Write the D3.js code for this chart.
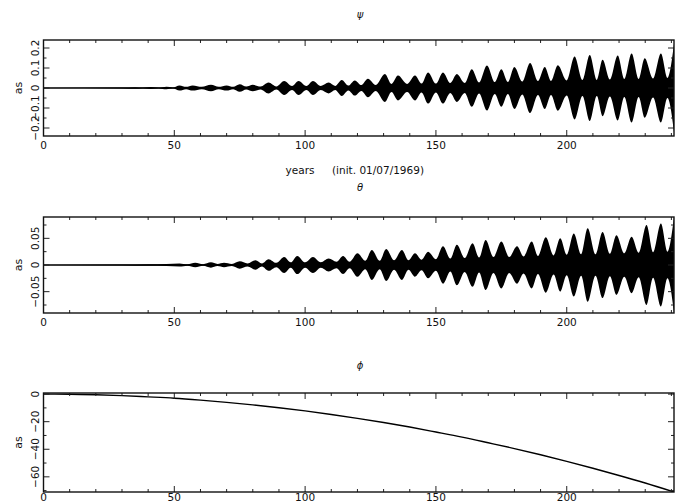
<!DOCTYPE html>
<html>
<head>
<meta charset="utf-8">
<script src="https://cdn.jsdelivr.net/npm/d3@7"></script>
<style>
  body { margin: 0; background: #fff; }
  text { font-family: "DejaVu Sans", sans-serif; fill: #111; }
</style>
</head>
<body>
<svg id="chart" width="690" height="502"></svg>
<script>
// x axis (years since 01/07/1969)
const xTicks = [0, 50, 100, 150, 200];

// psi: envelope of the fast oscillation, knots at lobe peaks and necks
const psiYears = [0, 30, 35, 38, 41, 44, 47, 49.5, 52, 54.5, 57, 60.5, 64, 67, 70, 72.5, 75, 77.5, 80, 83,
  86, 89, 92, 95, 97.5, 100.5, 103, 106, 109, 111.5, 114, 116.5, 119, 121.5, 124, 127, 130.5, 133, 135.5, 139,
  142, 144.5, 147, 150, 152.7, 155.5, 158, 161, 163.7, 166.5, 169.5, 172.5, 175, 177.5, 180, 183, 186, 189,
  191.6, 194, 196.6, 200, 203, 206, 208.8, 211.5, 213.7, 216.5, 219.5, 222, 224.8, 227.5, 229.8, 233, 236, 238.5, 241];
const psiAmp = [0.0, 0.002, 0.004, 0.002, 0.005, 0.002, 0.006, 0.003, 0.013, 0.006, 0.013, 0.006, 0.016, 0.006, 0.013, 0.006, 0.019, 0.007, 0.016, 0.007,
  0.027, 0.008, 0.035, 0.01, 0.035, 0.01, 0.035, 0.01, 0.027, 0.01, 0.04, 0.012, 0.038, 0.015, 0.046, 0.015, 0.07, 0.02, 0.062, 0.02,
  0.062, 0.022, 0.078, 0.022, 0.078, 0.025, 0.07, 0.025, 0.094, 0.028, 0.113, 0.03, 0.094, 0.03, 0.105, 0.032, 0.125, 0.035,
  0.105, 0.035, 0.114, 0.038, 0.157, 0.04, 0.165, 0.04, 0.141, 0.042, 0.162, 0.045, 0.173, 0.045, 0.149, 0.048, 0.173, 0.05, 0.22];
const psiTicks = [-0.2, -0.1, 0, 0.1, 0.2];

// theta
const thetaYears = [0, 30, 40, 47, 52, 55, 58, 61, 64, 66.5, 69, 72, 75, 78, 81, 83.5, 86, 89, 92, 94.5,
  97, 100, 103, 106, 109, 112, 114.5, 117, 120, 123, 125.5, 128.5, 131, 134, 137, 139.5, 142, 144.5, 147, 150,
  152.7, 155.5, 158, 161, 164, 166.5, 169, 172, 175, 178, 181, 183.5, 186.6, 189, 192, 195, 197.5, 200,
  202.7, 205.5, 208, 211, 213.7, 216.5, 219, 222, 224.8, 227.5, 230.5, 233, 236, 238.5, 241];
const thetaAmp = [0.0, 0.0008, 0.0015, 0.002, 0.003, 0.0015, 0.004, 0.0015, 0.005, 0.002, 0.004, 0.002, 0.007, 0.003, 0.009, 0.003, 0.011, 0.004, 0.015, 0.005,
  0.017, 0.005, 0.015, 0.005, 0.012, 0.006, 0.017, 0.006, 0.022, 0.008, 0.028, 0.008, 0.030, 0.009, 0.028, 0.009, 0.022, 0.01, 0.025, 0.011,
  0.035, 0.012, 0.038, 0.013, 0.041, 0.014, 0.047, 0.015, 0.044, 0.015, 0.035, 0.016, 0.044, 0.017, 0.052, 0.018, 0.05, 0.019,
  0.059, 0.02, 0.069, 0.02, 0.062, 0.021, 0.056, 0.022, 0.053, 0.023, 0.075, 0.024, 0.078, 0.025, 0.09];
const thetaTicks = [-0.05, 0, 0.05];

// phi: slow drift
const phiYears = [0, 10, 20, 30, 40, 50, 60, 70, 80, 90, 100, 110, 120, 130, 140, 150, 160, 170, 180, 190, 200, 210, 220, 230, 241];
const phiValues = [0, -0.1, -0.5, -1.1, -2, -3, -4.4, -6, -7.8, -9.9, -12.2, -14.8, -17.6, -20.6, -23.9, -27.5, -31.2, -35.3, -39.5, -44, -48.8, -53.8, -59, -64.5, -71];
const phiTicks = [-60, -40, -20, 0];

const svg = d3.select("#chart");
const x = d3.scaleLinear().domain([0, 241]).range([43.5, 674]);
const xMinor = d3.range(0, 241, 10);
const fmt = d3.format("~g");

function panel(top, bottom, yDomain, yTicks, yMinor, title, titleY, id, labelY) {
  const y = d3.scaleLinear().domain(yDomain).range([bottom, top]);
  const g = svg.append("g");

  g.append("clipPath").attr("id", id)
    .append("rect").attr("x", x.range()[0]).attr("y", top)
    .attr("width", x.range()[1] - x.range()[0]).attr("height", bottom - top);

  const marks = g.append("g").attr("clip-path", `url(#${id})`);

  // inward ticks, all four sides
  const tk = g.append("g").attr("stroke", "#222").attr("stroke-width", 1);
  xMinor.forEach(v => {
    const len = v % 50 === 0 ? 6 : 3;
    tk.append("line").attr("x1", x(v)).attr("x2", x(v)).attr("y1", bottom).attr("y2", bottom - len);
    tk.append("line").attr("x1", x(v)).attr("x2", x(v)).attr("y1", top).attr("y2", top + len);
  });
  const yAll = d3.range(Math.ceil(yDomain[0] / yMinor), Math.floor(yDomain[1] / yMinor) + 1).map(i => i * yMinor);
  yAll.forEach(v => {
    const major = yTicks.some(t => Math.abs(t - v) < 1e-9);
    const len = major ? 6 : 3;
    tk.append("line").attr("y1", y(v)).attr("y2", y(v)).attr("x1", x.range()[0]).attr("x2", x.range()[0] + len);
    tk.append("line").attr("y1", y(v)).attr("y2", y(v)).attr("x1", x.range()[1]).attr("x2", x.range()[1] - len);
  });

  g.append("rect")
    .attr("x", x.range()[0]).attr("y", top)
    .attr("width", x.range()[1] - x.range()[0]).attr("height", bottom - top)
    .attr("fill", "none").attr("stroke", "#111").attr("stroke-width", 1.4);

  // tick labels
  g.selectAll(".xl").data(xTicks).enter().append("text")
    .attr("x", d => x(d)).attr("y", labelY)
    .attr("text-anchor", "middle").attr("font-size", 10.5)
    .text(d => d);
  g.selectAll(".yl").data(yTicks).enter().append("text")
    .attr("transform", d => `translate(39,${y(d)}) rotate(-90)`)
    .attr("text-anchor", "middle").attr("font-size", 10.5)
    .text(d => fmt(d));
  g.append("text")
    .attr("transform", `translate(22,${(top + bottom) / 2}) rotate(-90)`)
    .attr("text-anchor", "middle").attr("font-size", 11)
    .text("as");
  g.append("text")
    .attr("x", 360).attr("y", titleY)
    .attr("text-anchor", "middle").attr("font-size", 10).attr("font-style", "italic")
    .text(title);

  return { y, marks };
}

function envelope(p, years, amp) {
  const pts = years.map((t, i) => ({ t: t, a: amp[i] }));
  const area = d3.area()
    .x(d => x(d.t))
    .y0(d => p.y(-d.a))
    .y1(d => p.y(d.a))
    .curve(d3.curveMonotoneX);
  p.marks.append("path").datum(pts).attr("d", area).attr("fill", "#000");
  p.marks.append("line")
    .attr("x1", x(0)).attr("x2", x(241)).attr("y1", p.y(0)).attr("y2", p.y(0))
    .attr("stroke", "#000").attr("stroke-width", 1.6);
}

const pPsi = panel(40, 136, [-0.24, 0.24], psiTicks, 0.05, "ψ", 18, "clipPsi", 149);
envelope(pPsi, psiYears, psiAmp);

svg.append("text").attr("x", 300).attr("y", 174).attr("text-anchor", "middle")
  .attr("font-size", 10.5).text("years");
svg.append("text").attr("x", 332).attr("y", 174).attr("text-anchor", "start")
  .attr("font-size", 10.5).text("(init. 01/07/1969)");

const pTheta = panel(217, 313, [-0.09, 0.09], thetaTicks, 0.025, "θ", 191, "clipTheta", 326);
envelope(pTheta, thetaYears, thetaAmp);

const pPhi = panel(393, 492, [-71, 0.8], phiTicks, 10, "ϕ", 369, "clipPhi", 501);
const phiLine = d3.line()
  .x((d, i) => x(phiYears[i]))
  .y(d => pPhi.y(d))
  .curve(d3.curveMonotoneX);
pPhi.marks.append("path").datum(phiValues).attr("d", phiLine)
  .attr("fill", "none").attr("stroke", "#000").attr("stroke-width", 1.4);
</script>
</body>
</html>
